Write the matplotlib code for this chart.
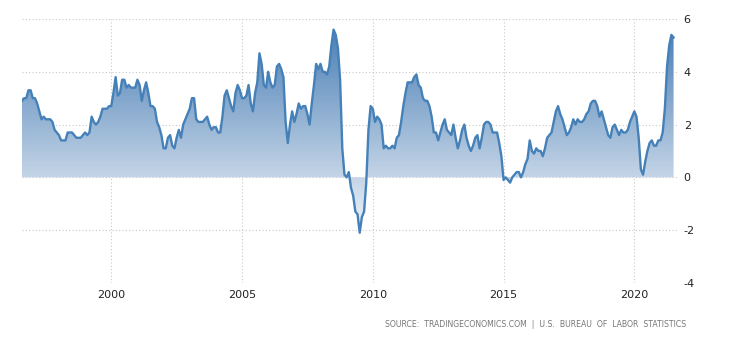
import numpy as np
import matplotlib
matplotlib.use("Agg")
import matplotlib.pyplot as plt
from matplotlib.colors import LinearSegmentedColormap

plt.rcParams["axes.unicode_minus"] = False

# US CPI inflation, yoy %, monthly from Aug 1996 to Jul 2021
start_year, start_month = 1996, 8
cpi = [
    2.9, 3.0, 3.0, 3.3, 3.3,
    3.0, 3.0, 2.8, 2.5, 2.2, 2.3, 2.2, 2.2, 2.2, 2.1, 1.8, 1.7,
    1.6, 1.4, 1.4, 1.4, 1.7, 1.7, 1.7, 1.6, 1.5, 1.5, 1.5, 1.6,
    1.7, 1.6, 1.7, 2.3, 2.1, 2.0, 2.1, 2.3, 2.6, 2.6, 2.6, 2.7,
    2.7, 3.2, 3.8, 3.1, 3.2, 3.7, 3.7, 3.4, 3.5, 3.4, 3.4, 3.4,
    3.7, 3.5, 2.9, 3.3, 3.6, 3.2, 2.7, 2.7, 2.6, 2.1, 1.9, 1.6,
    1.1, 1.1, 1.5, 1.6, 1.2, 1.1, 1.5, 1.8, 1.5, 2.0, 2.2, 2.4,
    2.6, 3.0, 3.0, 2.2, 2.1, 2.1, 2.1, 2.2, 2.3, 2.0, 1.8, 1.9,
    1.9, 1.7, 1.7, 2.3, 3.1, 3.3, 3.0, 2.7, 2.5, 3.2, 3.5, 3.3,
    3.0, 3.0, 3.1, 3.5, 2.8, 2.5, 3.2, 3.6, 4.7, 4.3, 3.5, 3.4,
    4.0, 3.6, 3.4, 3.5, 4.2, 4.3, 4.1, 3.8, 2.1, 1.3, 2.0, 2.5,
    2.1, 2.4, 2.8, 2.6, 2.7, 2.7, 2.4, 2.0, 2.8, 3.5, 4.3, 4.1,
    4.3, 4.0, 4.0, 3.9, 4.2, 5.0, 5.6, 5.4, 4.9, 3.7, 1.1, 0.1,
    0.0, 0.2, -0.4, -0.7, -1.3, -1.4, -2.1, -1.5, -1.3, -0.2, 1.8, 2.7,
    2.6, 2.1, 2.3, 2.2, 2.0, 1.1, 1.2, 1.1, 1.1, 1.2, 1.1, 1.5,
    1.6, 2.1, 2.7, 3.2, 3.6, 3.6, 3.6, 3.8, 3.9, 3.5, 3.4, 3.0,
    2.9, 2.9, 2.7, 2.3, 1.7, 1.7, 1.4, 1.7, 2.0, 2.2, 1.8, 1.7,
    1.6, 2.0, 1.5, 1.1, 1.4, 1.8, 2.0, 1.5, 1.2, 1.0, 1.2, 1.5,
    1.6, 1.1, 1.5, 2.0, 2.1, 2.1, 2.0, 1.7, 1.7, 1.7, 1.3, 0.8,
    -0.1, 0.0, -0.1, -0.2, 0.0, 0.1, 0.2, 0.2, 0.0, 0.2, 0.5, 0.7,
    1.4, 1.0, 0.9, 1.1, 1.0, 1.0, 0.8, 1.1, 1.5, 1.6, 1.7, 2.1,
    2.5, 2.7, 2.4, 2.2, 1.9, 1.6, 1.7, 1.9, 2.2, 2.0, 2.2, 2.1,
    2.1, 2.2, 2.4, 2.5, 2.8, 2.9, 2.9, 2.7, 2.3, 2.5, 2.2, 1.9,
    1.6, 1.5, 1.9, 2.0, 1.8, 1.6, 1.8, 1.7, 1.7, 1.8, 2.1, 2.3,
    2.5, 2.3, 1.5, 0.3, 0.1, 0.6, 1.0, 1.3, 1.4, 1.2, 1.2, 1.4,
    1.4, 1.7, 2.6, 4.2, 5.0, 5.4, 5.3,
]
x_ticks = [2000, 2005, 2010, 2015, 2020]
y_ticks = [-4, -2, 0, 2, 4, 6]
source_text = "SOURCE:  TRADINGECONOMICS.COM  |  U.S.  BUREAU  OF  LABOR  STATISTICS"

t = start_year + (start_month - 1) / 12 + np.arange(len(cpi)) / 12
y = np.array(cpi)

line_color = "#4581b8"

fig = plt.figure(figsize=(7.3, 3.4), dpi=100)
ax = fig.add_axes([0.030, 0.168, 0.897, 0.776])

xmin, xmax = t[0], 2021.62
ymin, ymax = -4, 6

# gradient fill clipped to the area between line and zero (dark at top)
cmap = LinearSegmentedColormap.from_list("g", ["#f2f5fa", "#4a7fb5"])
grad = np.linspace(1, 0, 256).reshape(-1, 1)
img = ax.imshow(grad, cmap=cmap, aspect="auto", origin="upper",
                extent=[xmin, xmax, y.min(), y.max()], zorder=1,
                interpolation="bilinear")
poly = ax.fill_between(t, y, 0, facecolor="none", edgecolor="none")
path = poly.get_paths()[0]
img.set_clip_path(path, transform=ax.transData)

ax.plot(t, y, color=line_color, lw=1.7, zorder=3, solid_joinstyle="round")

ax.set_xlim(xmin, xmax)
ax.set_ylim(ymin, ymax)
ax.set_xticks(x_ticks)
ax.set_yticks(y_ticks)
ax.grid(True, color="#c8c8c8", linestyle=(0, (1, 2)), linewidth=0.8, zorder=0)
ax.set_axisbelow(True)
for s in ax.spines.values():
    s.set_visible(False)
ax.yaxis.tick_right()
ax.tick_params(axis="both", length=0, labelsize=8, colors="#222222")
ax.tick_params(axis="y", pad=5)
ax.tick_params(axis="x", pad=5)

fig.text(0.94, 0.045, source_text, ha="right", va="center",
         fontsize=5.6, color="#777777")

fig.savefig("out.png", dpi=100)
